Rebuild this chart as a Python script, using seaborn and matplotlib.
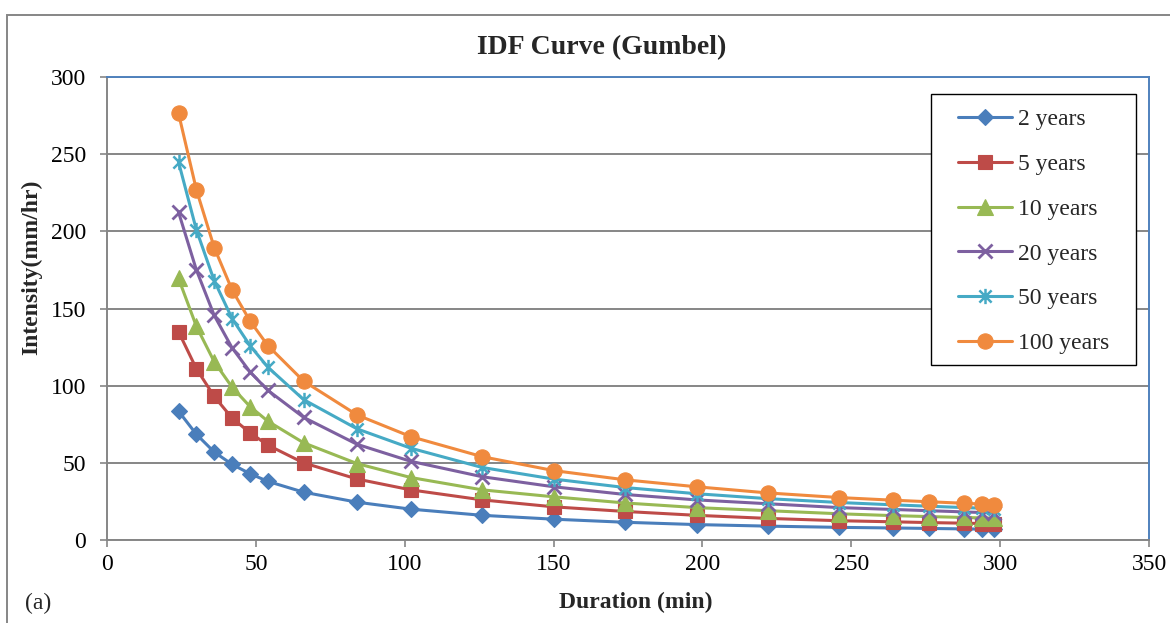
import matplotlib
matplotlib.use("Agg")
import matplotlib.pyplot as plt
from matplotlib.patches import Rectangle
from matplotlib.path import Path
import seaborn as sns
import pandas as pd

# Data
duration = [24, 30, 36, 42, 48, 54, 66, 84, 102, 126, 150, 174, 198, 222, 246, 264, 276, 288, 294, 298]

i_2yr = [83.5, 68.5, 57, 49, 43, 38, 31, 24.5, 20, 16, 13.5, 11.5, 10, 9, 8.2, 7.8, 7.5, 7.2, 7.1, 7.0]
i_5yr = [135, 111, 93, 79, 69.5, 61.5, 50, 39.5, 32.5, 26, 21.5, 18.5, 16, 14, 12.5, 11.8, 11.3, 10.9, 10.7, 10.6]
i_10yr = [169.5, 138.5, 115.5, 99, 86.5, 77, 63, 49.5, 40.5, 32.5, 28, 24, 21, 19, 17, 15.8, 15.2, 14.6, 14.3, 14.1]
i_20yr = [212.5, 175, 145.5, 124.5, 109, 97, 79.5, 62, 51, 41, 34.5, 29.5, 26, 23.5, 21, 19.8, 19, 18.2, 17.8, 17.6]
i_50yr = [245, 201, 168, 143.5, 126, 112, 91, 72, 59.5, 47, 39.5, 34, 30, 26.8, 24.3, 22.8, 21.9, 21, 20.6, 20.3]
i_100yr = [276.5, 227, 189.5, 162, 142, 126, 103, 81, 67, 54, 45, 39, 34.5, 30.5, 27.5, 25.8, 24.8, 23.8, 23.3, 23.0]

labels = ["2 years", "5 years", "10 years", "20 years", "50 years", "100 years"]
series = [i_2yr, i_5yr, i_10yr, i_20yr, i_50yr, i_100yr]

# Excel-like asterisk: an X plus a vertical stroke
star = Path([(-1, -1), (1, 1), (-1, 1), (1, -1), (0, -1.25), (0, 1.25)],
            [Path.MOVETO, Path.LINETO, Path.MOVETO, Path.LINETO, Path.MOVETO, Path.LINETO])

colors = ["#4A7EBB", "#BE4B48", "#98B954", "#7D60A0", "#46AAC5", "#F08A3E"]
markers = ["D", "s", "^", "x", star, "o"]
msizes = [8.5, 10, 11, 10, 11, 11]
medges = [0.8, 0.8, 0.8, 2.0, 1.8, 0.8]

df = pd.DataFrame({
    "Duration": duration * len(labels),
    "Intensity": [v for s in series for v in s],
    "Return period": [lab for lab in labels for _ in duration],
})

sns.set_theme(style="white")
plt.rcParams["font.family"] = ["Liberation Serif", "DejaVu Serif"]

fig = plt.figure(figsize=(11.7, 6.23), dpi=100)
ax = fig.add_axes([0.0915, 0.1332, 0.8906, 0.7432])

for lab, col, mk, ms, mew in zip(labels, colors, markers, msizes, medges):
    sub = df[df["Return period"] == lab]
    sns.lineplot(data=sub, x="Duration", y="Intensity", ax=ax, color=col,
                 marker=mk, markersize=ms, markeredgecolor=col,
                 markeredgewidth=mew, linewidth=2.2, label=lab, zorder=3)

ax.set_xlim(0, 350)
ax.set_ylim(0, 300)
ax.set_xticks(range(0, 351, 50))
ax.set_yticks(range(0, 301, 50))

grey = "#868686"
blue = "#4F81BD"
ax.yaxis.grid(True, color=grey, linewidth=1.4, zorder=0)
ax.xaxis.grid(False)
ax.set_axisbelow(True)
for side in ["left", "bottom"]:
    ax.spines[side].set_color(grey)
    ax.spines[side].set_linewidth(1.4)
for side in ["top", "right"]:
    ax.spines[side].set_color(blue)
    ax.spines[side].set_linewidth(1.4)

ax.tick_params(axis="both", direction="out", length=5, width=1.2, color=grey,
               labelsize=17, labelcolor="black")
ax.tick_params(axis="y", pad=10, left=True)
ax.tick_params(axis="x", pad=5, bottom=True)

ax.set_xlabel("Duration (min)", fontsize=17, fontweight="bold")
ax.set_ylabel("Intensity(mm/hr)", fontsize=17, fontweight="bold")
ax.xaxis.set_label_coords(0.507, -0.112)
ax.yaxis.set_label_coords(-0.062, 0.59)

fig.text(0.5145, 0.924, "IDF Curve (Gumbel)", fontsize=20, fontweight="bold",
         ha="center", va="center")
fig.text(0.021, 0.031, "(a)", fontsize=17, ha="left", va="center")

# outer chart frame
fig.patches.append(Rectangle((0.006, -0.05), 1.1, 1.026, transform=fig.transFigure,
                             fill=False, edgecolor=grey, linewidth=1.4, clip_on=False))

# legend box drawn separately so its padding matches the reference
ax.add_patch(Rectangle((0.7908, 0.378), 0.1967, 0.585, transform=ax.transAxes,
                       facecolor="white", edgecolor="black", linewidth=1.0, zorder=4))
leg = ax.legend(loc="upper left", bbox_to_anchor=(0.8167, 0.9314), fontsize=17,
                frameon=False, handlelength=2.29, labelspacing=0.985, borderpad=0,
                borderaxespad=0, handletextpad=0.25)
leg.set_zorder(5)

fig.savefig("out.png", dpi=100)
plt.close(fig)
